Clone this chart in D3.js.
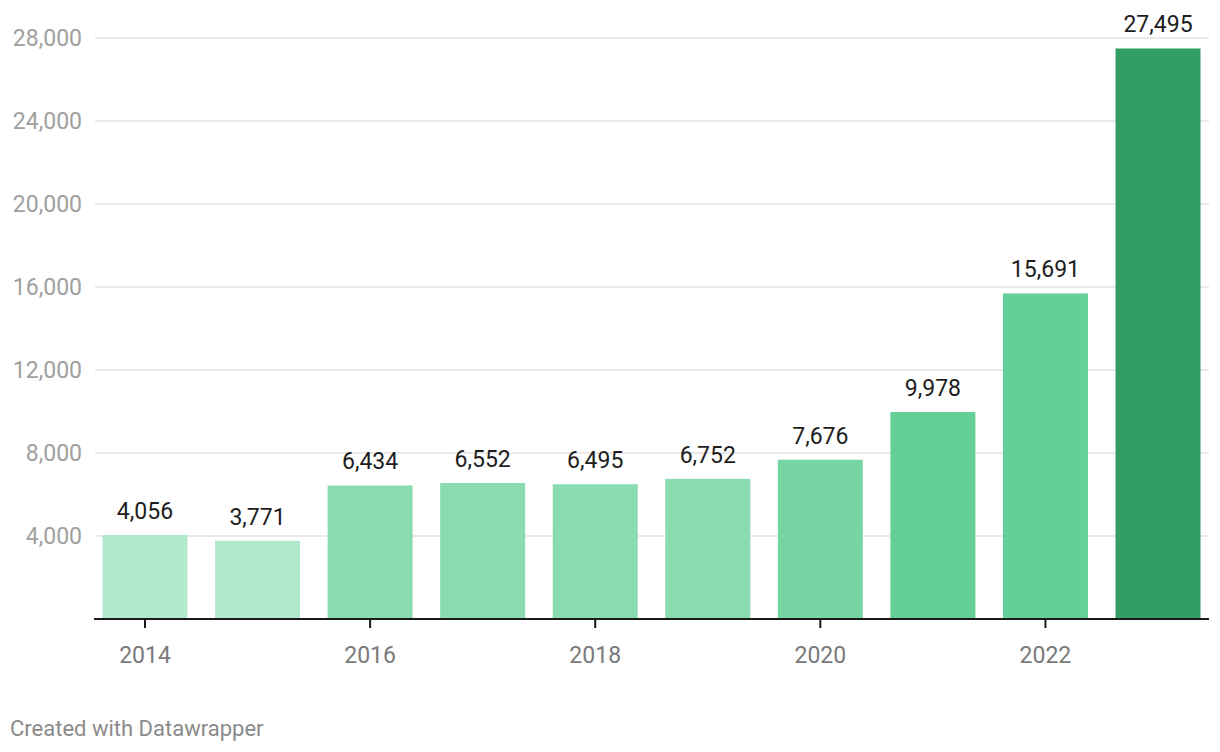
<!DOCTYPE html>
<html>
<head>
<meta charset="utf-8">
<script src="https://cdn.jsdelivr.net/npm/d3@7"></script>
<style>
  html, body { margin: 0; padding: 0; background: #fff; }
  svg { display: block; font-family: Roboto, "Noto Sans", sans-serif; }
</style>
</head>
<body>
<div id="chart"></div>
<script>
// data
const years = ['2014','2015','2016','2017','2018','2019','2020','2021','2022','2023'];
const values = [4056, 3771, 6434, 6552, 6495, 6752, 7676, 9978, 15691, 27495];
const barColors = ['#b2e8cc','#b2e8cc','#8adbb0','#8adbb0','#8adbb0','#8adbb0','#76d5a3','#64cf96','#64cf96','#329e63'];
const yTicks = [4000, 8000, 12000, 16000, 20000, 24000, 28000];
const xTickLabels = ['2014','2016','2018','2020','2022'];

const W = 1220, H = 752;
const svg = d3.select('#chart').append('svg')
  .attr('width', W).attr('height', H);

const plotLeft = 94, plotRight = 1209, base = 619, plotTop = 38;

const x = d3.scaleBand()
  .domain(years)
  .range([plotLeft, plotRight])
  .paddingInner(0.245)
  .paddingOuter(0.0755);

const y = d3.scaleLinear()
  .domain([0, 28000])
  .range([base, plotTop]);

const fmt = d3.format(',');

// gridlines + y labels
const grid = svg.append('g');
grid.selectAll('line').data(yTicks).enter().append('line')
  .attr('x1', plotLeft + 1).attr('x2', plotRight)
  .attr('y1', d => y(d)).attr('y2', d => y(d))
  .attr('stroke', '#e3e3e3').attr('stroke-width', 1.3);

grid.selectAll('text').data(yTicks).enter().append('text')
  .attr('x', 82).attr('y', d => y(d))
  .attr('dy', '0.35em')
  .attr('text-anchor', 'end')
  .attr('font-size', 23)
  .attr('fill', '#a0a0a0')
  .text(d => fmt(d));

// bars
svg.append('g').selectAll('rect').data(values).enter().append('rect')
  .attr('x', (d,i) => x(years[i]))
  .attr('width', x.bandwidth())
  .attr('y', d => y(d))
  .attr('height', d => base - y(d))
  .attr('fill', (d,i) => barColors[i]);

// value labels
svg.append('g').selectAll('text').data(values).enter().append('text')
  .attr('x', (d,i) => x(years[i]) + x.bandwidth()/2)
  .attr('y', d => y(d) - 16)
  .attr('text-anchor', 'middle')
  .attr('font-size', 23)
  .attr('fill', '#1d1d1d')
  .text(d => fmt(d));

// x axis
const xAxis = svg.append('g');
xAxis.append('line')
  .attr('x1', plotLeft).attr('x2', plotRight)
  .attr('y1', base).attr('y2', base)
  .attr('stroke', '#1a1a1a').attr('stroke-width', 2);

xAxis.selectAll('line.tick').data(xTickLabels).enter().append('line')
  .attr('class', 'tick')
  .attr('x1', d => x(d) + x.bandwidth()/2).attr('x2', d => x(d) + x.bandwidth()/2)
  .attr('y1', base).attr('y2', base + 9)
  .attr('stroke', '#1a1a1a').attr('stroke-width', 2);

xAxis.selectAll('text').data(xTickLabels).enter().append('text')
  .attr('x', d => x(d) + x.bandwidth()/2)
  .attr('y', 663)
  .attr('text-anchor', 'middle')
  .attr('font-size', 23)
  .attr('fill', '#7a7a7a')
  .text(d => d);

// footer
svg.append('text')
  .attr('x', 10).attr('y', 736)
  .attr('font-size', 22)
  .attr('fill', '#8a8a8a')
  .text('Created with Datawrapper');
</script>
</body>
</html>
